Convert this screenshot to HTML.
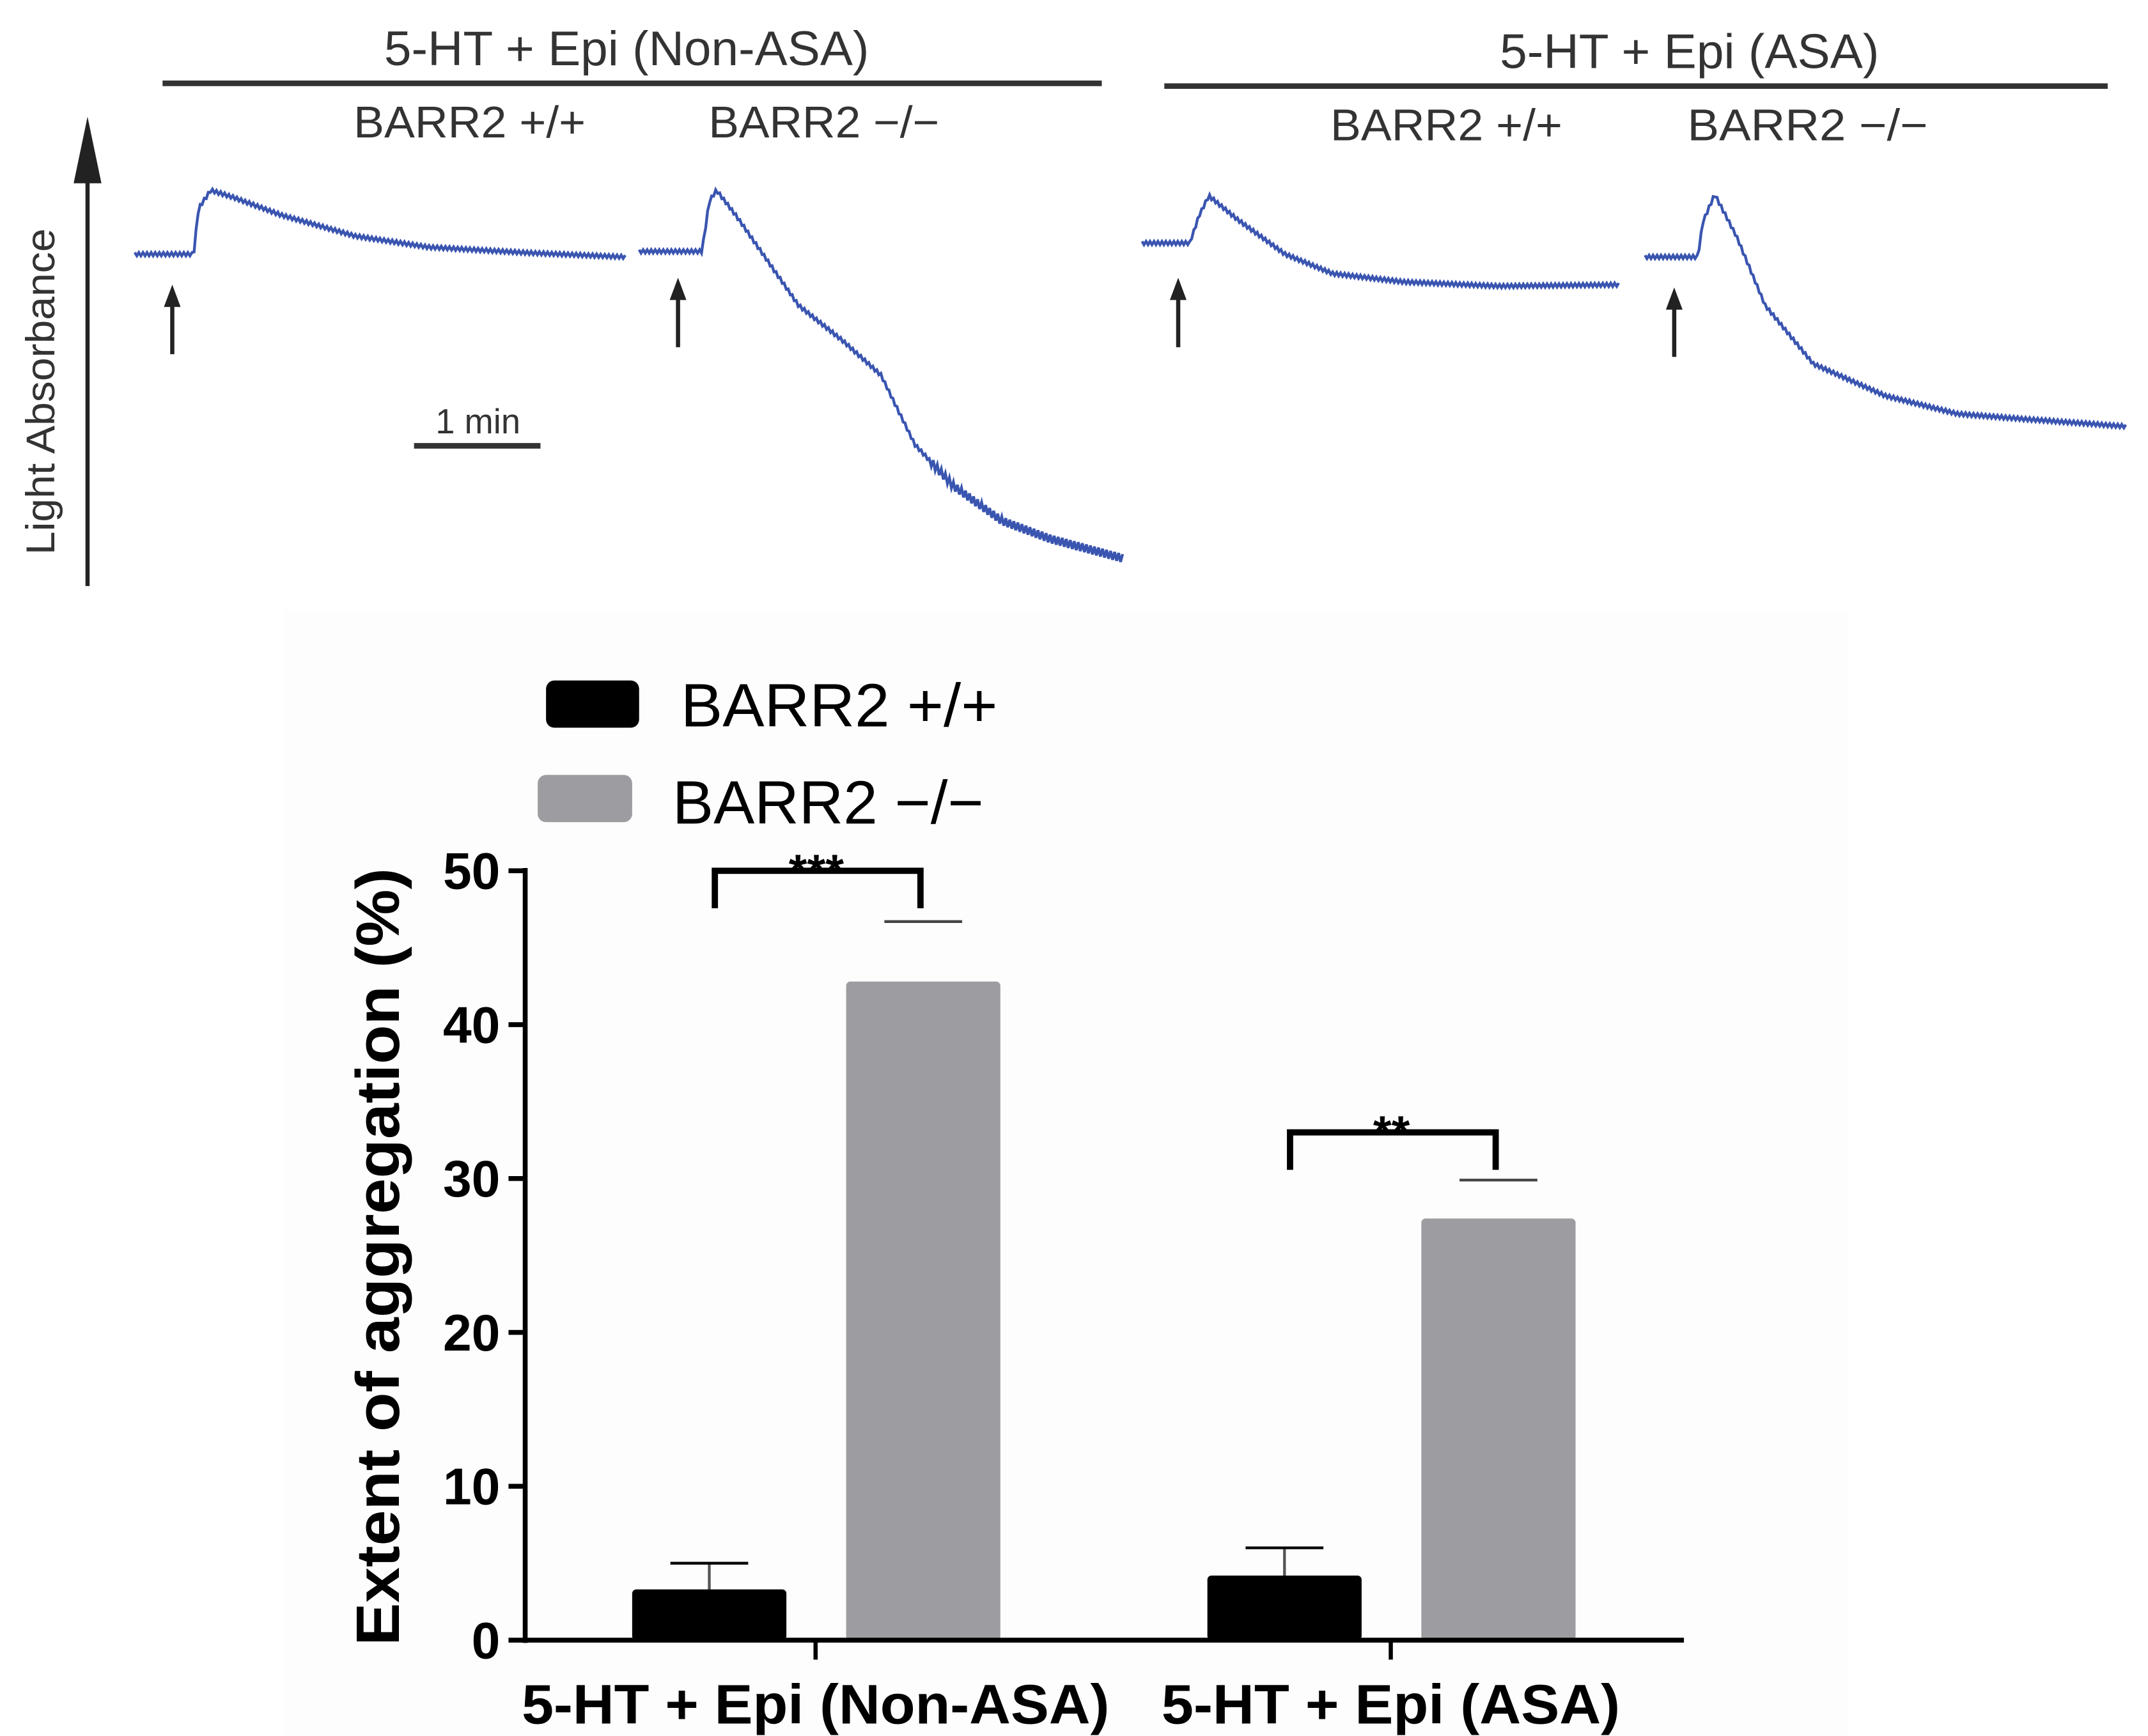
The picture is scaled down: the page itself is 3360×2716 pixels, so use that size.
<!DOCTYPE html>
<html><head><meta charset="utf-8"><style>
html,body{margin:0;padding:0;background:#fff;}
svg{display:block;}
text{font-family:"Liberation Sans",sans-serif;}
</style></head><body>
<svg id="fig" width="3360" height="2716" viewBox="0 0 1546 1250" preserveAspectRatio="none" xmlns="http://www.w3.org/2000/svg">
<rect x="205" y="440" width="1125" height="825" fill="#fdfdfd"/>
<text x="451" y="47" font-size="35" text-anchor="middle" fill="#333" textLength="349" lengthAdjust="spacingAndGlyphs">5-HT + Epi (Non-ASA)</text>
<line x1="117" y1="60" x2="793" y2="60" stroke="#333" stroke-width="4"/>
<text x="1216" y="49" font-size="35" text-anchor="middle" fill="#333" textLength="273" lengthAdjust="spacingAndGlyphs">5-HT + Epi (ASA)</text>
<line x1="838" y1="62" x2="1517" y2="62" stroke="#333" stroke-width="4"/>
<text x="338" y="99" font-size="32" text-anchor="middle" fill="#333" textLength="167" lengthAdjust="spacingAndGlyphs">BARR2 +/+</text>
<text x="593" y="99" font-size="32" text-anchor="middle" fill="#333" textLength="166" lengthAdjust="spacingAndGlyphs">BARR2 −/−</text>
<text x="1041" y="101" font-size="32" text-anchor="middle" fill="#333" textLength="167" lengthAdjust="spacingAndGlyphs">BARR2 +/+</text>
<text x="1301" y="101" font-size="32" text-anchor="middle" fill="#333" textLength="173" lengthAdjust="spacingAndGlyphs">BARR2 −/−</text>
<line x1="63" y1="422" x2="63" y2="110" stroke="#222" stroke-width="3"/>
<polygon points="63,84 53,132 73,132" fill="#222"/>
<text transform="translate(39,282) rotate(-90)" font-size="29" text-anchor="middle" fill="#333" textLength="235" lengthAdjust="spacingAndGlyphs">Light Absorbance</text>
<line x1="298" y1="321" x2="389" y2="321" stroke="#333" stroke-width="4"/>
<text x="344" y="312" font-size="25" text-anchor="middle" fill="#333">1 min</text>
<g id="traces"></g>
<g id="bars"></g>
<line x1="378" y1="625" x2="378" y2="1183" stroke="#000" stroke-width="3.5"/>
<line x1="376" y1="1181" x2="1212" y2="1181" stroke="#000" stroke-width="3.5"/>
<g id="ticks"></g>
<text transform="translate(287,905) rotate(-90)" font-size="44" font-weight="bold" text-anchor="middle" fill="#000" textLength="560" lengthAdjust="spacingAndGlyphs">Extent of aggregation (%)</text>
<rect x="393" y="490" width="67" height="34" rx="6" fill="#000"/>
<text x="490" y="523" font-size="44" fill="#000" textLength="228" lengthAdjust="spacingAndGlyphs">BARR2 +/+</text>
<rect x="387" y="558" width="68" height="34" rx="6" fill="#9d9da1"/>
<text x="484" y="593" font-size="44" fill="#000" textLength="224" lengthAdjust="spacingAndGlyphs">BARR2 −/−</text>
</svg>
<script>
const NS="http://www.w3.org/2000/svg";
const trace1T=[0,0.12,0.13,0.155,0.2,0.3,0.45,0.6,0.8,1];
const trace1V=[183,183,150,137,142,155,170,178,182,185];
const trace2T=[0,0.13,0.145,0.16,0.2,0.25,0.33,0.42,0.5,0.57,0.65,0.75,0.85,1];
const trace2V=[181,181,145,137,155,180,220,245,270,320,350,375,388,402];
const trace3T=[0,0.1,0.12,0.14,0.2,0.3,0.4,0.55,0.75,1];
const trace3V=[175,175,155,141,158,183,197,203,206,205];
const trace4T=[0,0.11,0.12,0.145,0.19,0.25,0.35,0.5,0.65,0.8,1];
const trace4V=[185,185,160,140,170,220,262,285,298,302,307];
const traceStartX=[97,460,822,1184];
const traceEndX=[450,808,1165,1530];
const arrowX=[124,488,848,1205];
const arrowTop=[205,200,200,207];
const traceT=[trace1T,trace2T,trace3T,trace4T];
const traceV=[trace1V,trace2V,trace3V,trace4V];
const tg=document.getElementById('traces');
for(let i=0;i<4;i++){
  const pts=[];const T=traceT[i],V=traceV[i];
  const N=240;
  for(let k=0;k<=N;k++){
    const t=k/N;let j=0;while(j<T.length-2&&T[j+1]<t)j++;
    const f=(t-T[j])/(T[j+1]-T[j]);
    const v=V[j]+(V[j+1]-V[j])*Math.max(0,Math.min(1,f));
    const jit=(k%2?1:-1)*(i==1&&t>0.6?3:1.2);
    pts.push((traceStartX[i]+t*(traceEndX[i]-traceStartX[i])).toFixed(1)+','+(v+jit).toFixed(1));
  }
  const pl=document.createElementNS(NS,'polyline');
  pl.setAttribute('points',pts.join(' '));
  pl.setAttribute('fill','none');pl.setAttribute('stroke','#3a55b0');pl.setAttribute('stroke-width','2');
  
  
  tg.appendChild(pl);
  const ar=document.createElementNS(NS,'line');
  ar.setAttribute('x1',arrowX[i]);ar.setAttribute('x2',arrowX[i]);
  ar.setAttribute('y1',arrowTop[i]+50);ar.setAttribute('y2',arrowTop[i]+10);
  ar.setAttribute('stroke','#222');ar.setAttribute('stroke-width','3');
  
  
  tg.appendChild(ar);
  const ah=document.createElementNS(NS,'polygon');
  const ax=arrowX[i],ay=arrowTop[i];
  ah.setAttribute('points',ax+','+ay+' '+(ax-6)+','+(ay+16)+' '+(ax+6)+','+(ay+16));
  ah.setAttribute('fill','#222');
  
  
  tg.appendChild(ah);
}
const categories=["5-HT + Epi (Non-ASA)","5-HT + Epi (ASA)"];
const wtValues=[3.3,4.2];
const wtErr=[1.7,1.8];
const koValues=[42.8,27.4];
const koErr=[3.9,2.5];
const yTicks=[0,10,20,30,40,50];
const sigLabels=["***","**"];
const sigHeights=[50,33];
const y0=1181,y50=627;
const yS=v=>y0-(y0-y50)*v/50;
const catCenter=[587,1001];
const catLabelW=[423,330];
const barW=111;
const bg=document.getElementById('bars');
function rect(x,y,w,h,fill,name){
  const r=document.createElementNS(NS,'rect');
  r.setAttribute('x',x);r.setAttribute('y',y);r.setAttribute('width',w);r.setAttribute('height',h);
  r.setAttribute('fill',fill);r.setAttribute('rx','3');
  
  
  bg.appendChild(r);
}
function line(x1,y1,x2,y2,c,w,name){
  const l=document.createElementNS(NS,'line');
  l.setAttribute('x1',x1);l.setAttribute('y1',y1);l.setAttribute('x2',x2);l.setAttribute('y2',y2);
  l.setAttribute('stroke',c);l.setAttribute('stroke-width',w);
  
  
  bg.appendChild(l);
}
function txt(x,y,s,size,bold,anchor,name,len){
  const t=document.createElementNS(NS,'text');
  t.setAttribute('x',x);t.setAttribute('y',y);t.setAttribute('font-size',size);
  if(bold)t.setAttribute('font-weight','bold');
  if(len){t.setAttribute('textLength',len);t.setAttribute('lengthAdjust','spacingAndGlyphs');}
  t.setAttribute('text-anchor',anchor);t.textContent=s;
  
  
  bg.appendChild(t);
}
for(let i=0;i<categories.length;i++){
  const c=catCenter[i];
  const wx=c-132, kx=c+22;
  const wxc=wx+barW/2, kxc=kx+barW/2;
  line(wxc,yS(wtValues[i]),wxc,yS(wtValues[i]+wtErr[i]),'#555',2,'error-bar-wt');
  line(wxc-28,yS(wtValues[i]+wtErr[i]),wxc+28,yS(wtValues[i]+wtErr[i]),'#000',2,'error-cap-wt');
  rect(wx,yS(wtValues[i]),barW,y0-yS(wtValues[i]),'#000','bar-wt');
  line(kxc-28,yS(koValues[i]+koErr[i]),kxc+28,yS(koValues[i]+koErr[i]),'#444',2,'error-cap-ko');
  rect(kx,yS(koValues[i]),barW,y0-yS(koValues[i]),'#9d9da1','bar-ko');
  line(c,y0,c,y0+14,'#000',3,'x-tick');
  txt(c,1241,categories[i],40,true,'middle','x-category-label',catLabelW[i]);
  const by=yS(sigHeights[i]);
  const p=document.createElementNS(NS,'polyline');
  p.setAttribute('points',(wxc+4)+','+(by+27)+' '+(wxc+4)+','+by+' '+(kxc-2)+','+by+' '+(kxc-2)+','+(by+27));
  p.setAttribute('fill','none');p.setAttribute('stroke','#000');p.setAttribute('stroke-width','4.5');
  
  
  bg.appendChild(p);
  txt((wxc+kxc)/2,by+12,sigLabels[i],34,true,'middle','significance-stars');
}
const tk=document.getElementById('ticks');
for(const v of yTicks){
  const l=document.createElementNS(NS,'line');
  l.setAttribute('x1',366);l.setAttribute('x2',378);l.setAttribute('y1',yS(v));l.setAttribute('y2',yS(v));
  l.setAttribute('stroke','#000');l.setAttribute('stroke-width','3.5');
  
  
  tk.appendChild(l);
  const t=document.createElementNS(NS,'text');
  t.setAttribute('x',360);t.setAttribute('y',yS(v)+13);t.setAttribute('font-size','37');
  t.setAttribute('font-weight','bold');t.setAttribute('text-anchor','end');t.textContent=v;
  
  
  tk.appendChild(t);
}
</script>
</body></html>
